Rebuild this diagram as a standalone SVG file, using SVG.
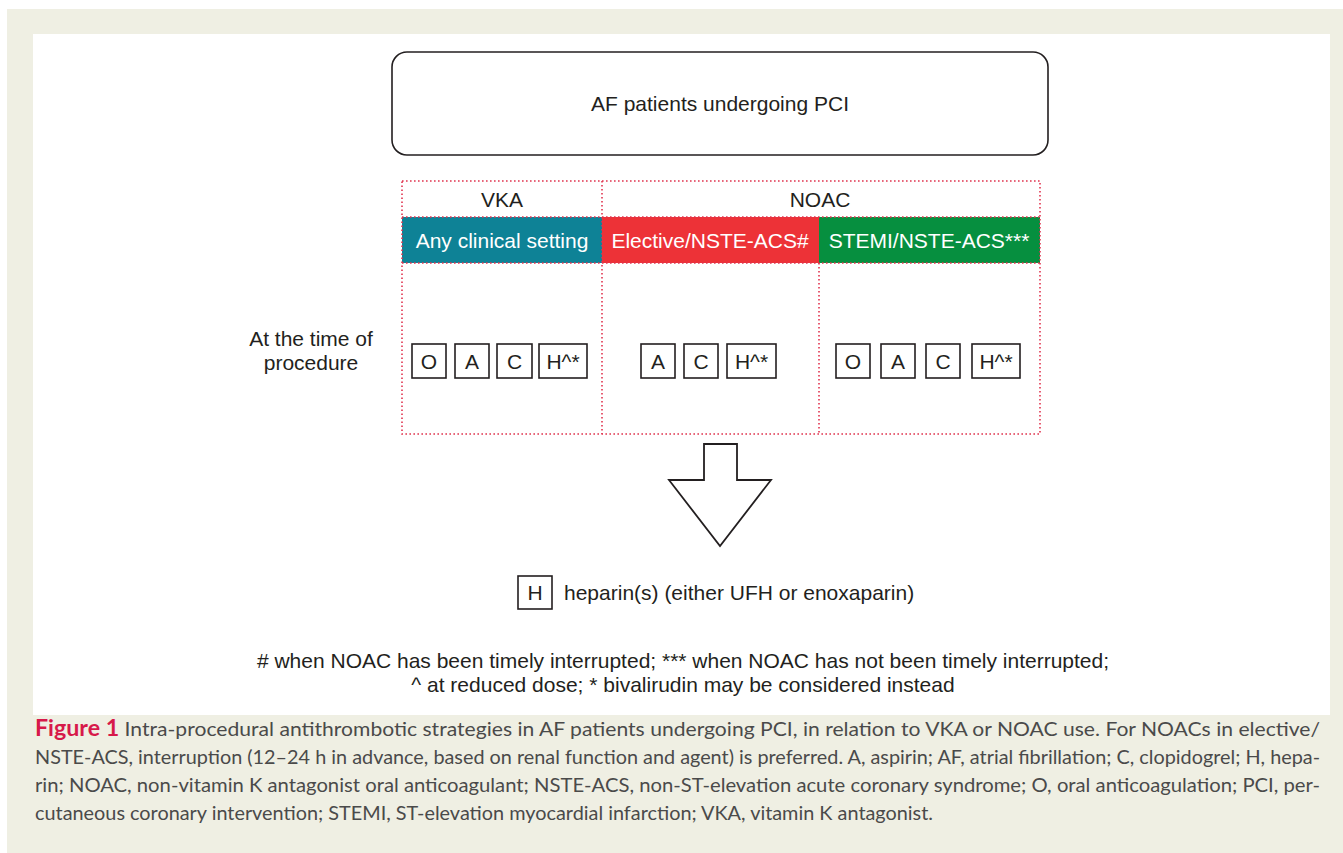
<svg xmlns="http://www.w3.org/2000/svg" width="1343" height="853" viewBox="0 0 1343 853">
<style>
.t{font-family:"Liberation Sans",Arial,sans-serif;font-size:21px;fill:#231f20}
.tw{font-family:"Liberation Sans",Arial,sans-serif;font-size:21px;fill:#ffffff}
.box{fill:#fff;stroke:#231f20;stroke-width:1.6}
.dot{fill:none;stroke:#e0344f;stroke-width:1.6;stroke-dasharray:1.6 2.4}
.cap{font-family:Lato,"Open Sans",sans-serif;font-size:20px;fill:#4a4a4a}
</style>
<rect x="0" y="0" width="1343" height="853" fill="#ffffff"/>
<rect x="7" y="9" width="1336" height="844" fill="#efefe3"/>
<rect x="33" y="34" width="1297" height="681" fill="#ffffff"/>

<g id="top">
<rect x="392" y="52" width="656" height="103" rx="15" class="box"/>
<text x="720" y="111" class="t" text-anchor="middle">AF patients undergoing PCI</text>
</g>

<g id="bars">
<rect x="402" y="217" width="200" height="46" fill="#0e8296"/>
<rect x="602" y="217" width="217" height="46" fill="#ed3237"/>
<rect x="819" y="217" width="221" height="46" fill="#068f3f"/>
<text x="502" y="248" class="tw" text-anchor="middle">Any clinical setting</text>
<text x="710" y="248" class="tw" text-anchor="middle">Elective/NSTE-ACS#</text>
<text x="929" y="248" class="tw" text-anchor="middle">STEMI/NSTE-ACS***</text>
</g>

<g id="frame">
<rect x="402" y="181" width="638" height="253" class="dot"/>
<line x1="602" y1="181" x2="602" y2="434" class="dot"/>
<line x1="819" y1="263" x2="819" y2="434" class="dot"/>
<line x1="402" y1="217" x2="1040" y2="217" class="dot"/>
<line x1="402" y1="263" x2="1040" y2="263" class="dot"/>
<text x="502" y="207" class="t" text-anchor="middle">VKA</text>
<text x="820" y="207" class="t" text-anchor="middle">NOAC</text>
</g>

<g id="label">
<text x="311" y="346" class="t" text-anchor="middle">At the time of</text>
<text x="311" y="370" class="t" text-anchor="middle">procedure</text>
</g>

<g id="vka">
<rect x="412" y="344" width="34" height="34" class="box"/><text x="429" y="369" class="t" text-anchor="middle">O</text>
<rect x="455" y="344" width="34" height="34" class="box"/><text x="472" y="369" class="t" text-anchor="middle">A</text>
<rect x="497" y="344" width="35" height="34" class="box"/><text x="514.5" y="369" class="t" text-anchor="middle">C</text>
<rect x="539" y="344" width="48" height="34" class="box"/><text x="563" y="369" class="t" text-anchor="middle">H^*</text>
</g>
<g id="elective">
<rect x="641" y="344" width="34" height="34" class="box"/><text x="658" y="369" class="t" text-anchor="middle">A</text>
<rect x="684" y="344" width="34" height="34" class="box"/><text x="701" y="369" class="t" text-anchor="middle">C</text>
<rect x="727" y="344" width="49" height="34" class="box"/><text x="751.5" y="369" class="t" text-anchor="middle">H^*</text>
</g>
<g id="stemi">
<rect x="836" y="344" width="34" height="34" class="box"/><text x="853" y="369" class="t" text-anchor="middle">O</text>
<rect x="881" y="344" width="34" height="34" class="box"/><text x="898" y="369" class="t" text-anchor="middle">A</text>
<rect x="926" y="344" width="34" height="34" class="box"/><text x="943" y="369" class="t" text-anchor="middle">C</text>
<rect x="972" y="344" width="48" height="34" class="box"/><text x="996" y="369" class="t" text-anchor="middle">H^*</text>
</g>

<g id="connectors">
<polygon points="704,444 737,444 737,480 771,480 720,546 669,480 704,480" fill="#fff" stroke="#231f20" stroke-width="1.8" stroke-linejoin="miter"/>
</g>

<g id="legend">
<rect x="518" y="576" width="34" height="33" class="box"/><text x="535" y="600" class="t" text-anchor="middle">H</text>
<text x="564" y="600" class="t">heparin(s) (either UFH or enoxaparin)</text>
</g>

<g id="notes">
<text x="683" y="668" class="t" text-anchor="middle"># when NOAC has been timely interrupted; *** when NOAC has not been timely interrupted;</text>
<text x="683" y="692" class="t" text-anchor="middle">^ at reduced dose; * bivalirudin may be considered instead</text>
</g>

<g id="caption">
<text x="35" y="736" class="cap" textLength="1285" lengthAdjust="spacingAndGlyphs"><tspan font-weight="bold" fill="#d7194a" font-size="22px">Figure 1</tspan>  Intra-procedural antithrombotic strategies in AF patients undergoing PCI, in relation to VKA or NOAC use. For NOACs in elective/</text>
<text x="35" y="764" class="cap" textLength="1285" lengthAdjust="spacingAndGlyphs">NSTE-ACS, interruption (12–24 h in advance, based on renal function and agent) is preferred. A, aspirin; AF, atrial fibrillation; C, clopidogrel; H, hepa-</text>
<text x="35" y="792" class="cap" textLength="1285" lengthAdjust="spacingAndGlyphs">rin; NOAC, non-vitamin K antagonist oral anticoagulant; NSTE-ACS, non-ST-elevation acute coronary syndrome; O, oral anticoagulation; PCI, per-</text>
<text x="35" y="820" class="cap" textLength="898" lengthAdjust="spacingAndGlyphs">cutaneous coronary intervention; STEMI, ST-elevation myocardial infarction; VKA, vitamin K antagonist.</text>
</g>
</svg>
